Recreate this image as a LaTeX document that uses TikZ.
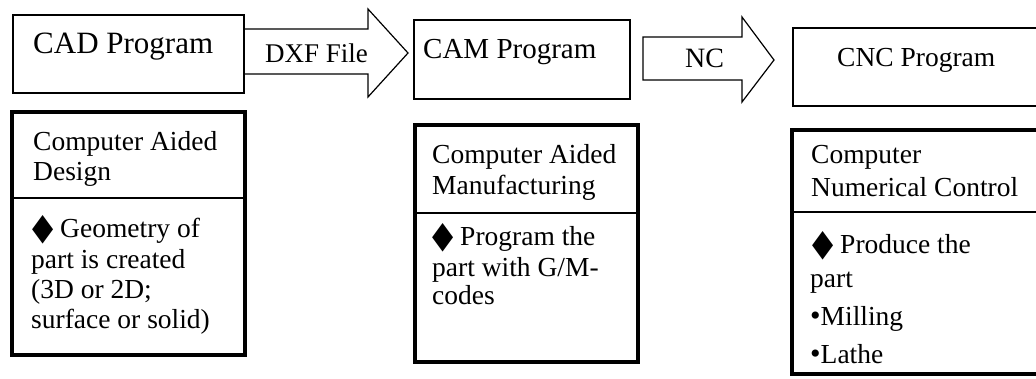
\documentclass[tikz,border=0pt]{standalone}
\usepackage{fontspec}
\usepackage{graphicx}
\setmainfont{Liberation Serif}
\newfontfamily\symfont{DejaVu Sans}
\newcommand\dmd{\raisebox{-2pt}{\scalebox{1.0}[1.36]{\symfont\char"25C6}}}
\newcommand\bul{{\fontsize{30}{30}\selectfont •}}

\begin{document}
\begin{tikzpicture}[x=1pt,y=-1pt,
  panel/.style={rectangle, inner sep=0pt, outer sep=0pt, anchor=north west, fill=white},
  thinbox/.style={panel, draw=black, line width=1.3pt},
  thickbox/.style={panel, draw=black, line width=3.6pt},
  divider/.style={draw=black, line width=1.3pt},
  blockarrow/.style={draw=black, line width=1.2pt, fill=white, line join=miter},
  txt/.style={inner sep=0pt, anchor=base west, font=\fontsize{27.5}{31}\selectfont},
]
\useasboundingbox (0,0) rectangle (1036,378);
\clip (0,0) rectangle (1036,378);

% block arrows between the program boxes
\fill[white] (244,29) -- (368,29) -- (368,9) -- (408,53) -- (368,97) -- (368,74) -- (244,74) -- cycle;
\draw[blockarrow] (244,29) -- (368,29) -- (368,9) -- (408,53) -- (368,97) -- (368,74) -- (244,74);
\draw[blockarrow] (643,37) -- (742,37) -- (742,17) -- (774,60) -- (742,102) -- (742,80) -- (643,80) -- cycle;

% program boxes
\node[thinbox, minimum width=231pt, minimum height=78pt] (cad) at (13,15) {};
\node[thinbox, minimum width=216pt, minimum height=79pt] (cam) at (414,20) {};
\node[thinbox, minimum width=260pt, minimum height=78pt] (cnc) at (793,28) {};

\node[txt, font=\fontsize{31}{36}\selectfont] (cadt) at (33,53) {CAD Program};
\node[txt, font=\fontsize{29}{34}\selectfont] (camt) at (423,58) {CAM Program};
\node[txt] (cnct) at (837,66) {CNC Program};

\node[txt, font=\fontsize{27}{32}\selectfont] (dxf) at (265,62) {DXF File};
\node[txt, font=\fontsize{28}{32}\selectfont] (nc) at (685,67) {NC};

% description panels
\node[thickbox, minimum width=233pt, minimum height=243pt] (cadd) at (12,112) {};
\node[thickbox, minimum width=223pt, minimum height=237pt] (camd) at (415,125) {};
\node[thickbox, minimum width=262pt, minimum height=244pt] (cncd) at (792,130) {};

\draw[divider] (cadd.west |- 0,198) -- (cadd.east |- 0,198);
\draw[divider] (camd.west |- 0,213) -- (camd.east |- 0,213);
\draw[divider] (cncd.west |- 0,212) -- (cncd.east |- 0,212);

% panel texts
\node[txt] (cad1) at (33,150) {Computer Aided};
\node[txt] (cad2) at (33,180) {Design};
\node[txt] (cad3) at (32,237) {\dmd\ Geometry of};
\node[txt] (cad4) at (31,268) {part is created};
\node[txt] (cad5) at (31,298) {(3D or 2D;};
\node[txt] (cad6) at (31,328) {surface or solid)};

\node[txt] (cam1) at (432,163) {Computer Aided};
\node[txt] (cam2) at (432,194) {Manufacturing};
\node[txt] (cam3) at (432,245) {\dmd\ Program the};
\node[txt] (cam4) at (432,276) {part with G/M-};
\node[txt] (cam5) at (432,304) {codes};

\node[txt] (cnc1) at (811,163) {Computer};
\node[txt] (cnc2) at (811,196) {Numerical Control};
\node[txt] (cnc3) at (812,253) {\dmd\ Produce the};
\node[txt] (cnc4) at (810,287) {part};
\node[txt] (cnc5) at (810,325) {\bul Milling};
\node[txt] (cnc6) at (810,363) {\bul Lathe};
\end{tikzpicture}
\end{document}
